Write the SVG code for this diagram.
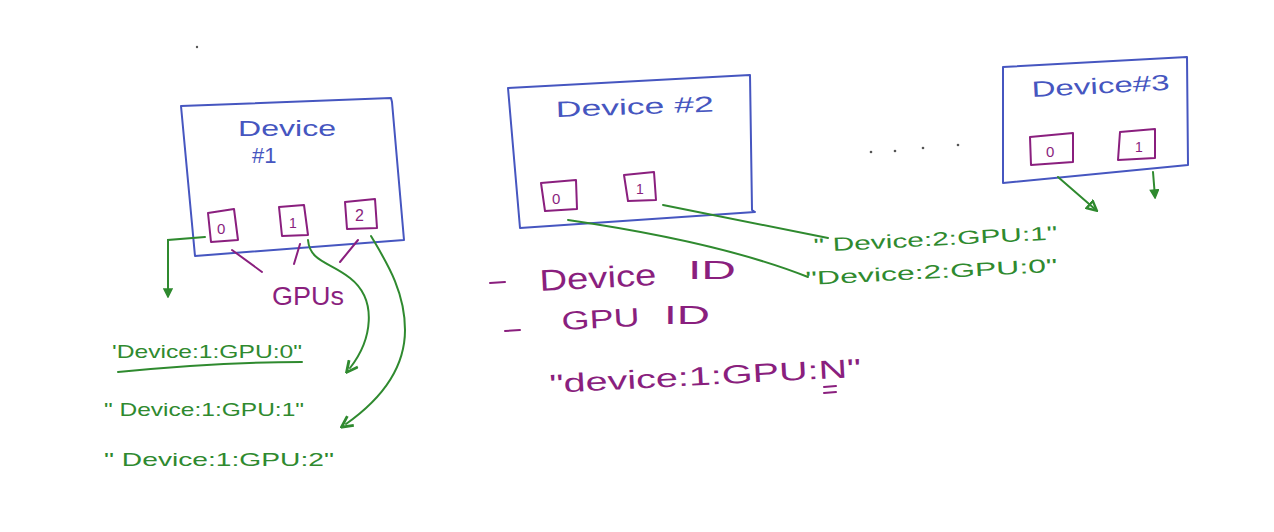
<svg xmlns="http://www.w3.org/2000/svg" width="1274" height="532" viewBox="0 0 1274 532">
<style>
.dev{fill:none;stroke:#4656c0;stroke-width:2;stroke-linejoin:round}
.gpu{fill:none;stroke:#8a1f7e;stroke-width:2;stroke-linejoin:round}
.bt{fill:#4656c0;font-family:"Liberation Sans",sans-serif;font-size:22px}
.pt{fill:#8a1f7e;font-family:"Liberation Sans",sans-serif}
.gt{fill:#2f8a2f;font-family:"Liberation Sans",sans-serif;font-size:19px}
.cn{fill:none;stroke:#2f8a2f;stroke-width:2;stroke-linecap:round}
.pl{fill:none;stroke:#8a1f7e;stroke-width:2;stroke-linecap:round}
</style>
<defs>
<marker id="ah" viewBox="0 0 10 10" refX="5" refY="5" markerWidth="7" markerHeight="7" orient="auto-start-reverse">
<path d="M1,1 L9,5 L1,9" fill="none" stroke="#2f8a2f" stroke-width="2"/>
</marker>
<marker id="tri" viewBox="0 0 10 10" refX="8" refY="5" markerWidth="6" markerHeight="6" orient="auto">
<path d="M1,1 L9,5 L1,9 Z" fill="none" stroke="#2f8a2f" stroke-width="2"/>
</marker>
<marker id="trif" viewBox="0 0 10 10" refX="8" refY="5" markerWidth="5" markerHeight="5" orient="auto">
<path d="M1,1 L9,5 L1,9 Z" fill="#2f8a2f" stroke="#2f8a2f" stroke-width="1.5"/>
</marker>
</defs>
<rect width="1274" height="532" fill="#ffffff"/>
<circle cx="197" cy="47" r="1.2" fill="#555"/>

<g id="device1">
<path class="dev" d="M181,106 L391,98 L392,102 L404,240 L195,256 Z"/>
<text class="bt" x="238" y="136" textLength="98" lengthAdjust="spacingAndGlyphs">Device</text>
<text class="bt" x="252" y="163" font-size="18">#1</text>
<path class="gpu" d="M208,213 L234,209 L238,240 L211,242 Z"/>
<text class="pt" x="217" y="234" font-size="15">0</text>
<path class="gpu" d="M279,207 L304,205 L308,235 L282,236 Z"/>
<text class="pt" x="289" y="228" font-size="14">1</text>
<path class="gpu" d="M345,202 L375,199 L377,228 L347,229 Z"/>
<text class="pt" x="355" y="221" font-size="16">2</text>
</g>

<g id="gpus-label">
<path class="pl" d="M232,250 L262,272"/>
<path class="pl" d="M300,244 L294,264"/>
<path class="pl" d="M358,240 L340,262"/>
<text class="pt" x="272" y="305" font-size="26" textLength="72" lengthAdjust="spacingAndGlyphs">GPUs</text>
</g>

<g id="device2">
<path class="dev" d="M508,88 L750,75 L752,210 L755,212 L520,228 Z"/>
<text class="bt" x="556" y="117" textLength="158" lengthAdjust="spacingAndGlyphs" transform="rotate(-2 556 117)">Device #2</text>
<path class="gpu" d="M541,183 L576,180 L577,209 L545,211 Z"/>
<text class="pt" x="552" y="204" font-size="15">0</text>
<path class="gpu" d="M624,175 L654,172 L656,200 L628,201 Z"/>
<text class="pt" x="636" y="194" font-size="14">1</text>
</g>

<g id="device3">
<path class="dev" d="M1003,67 L1187,57 L1188,165 L1003,183 Z"/>
<text class="bt" x="1032" y="97" textLength="138" lengthAdjust="spacingAndGlyphs" transform="rotate(-3 1032 97)">Device#3</text>
<path class="gpu" d="M1030,137 L1073,133 L1073,162 L1031,165 Z"/>
<text class="pt" x="1046" y="157" font-size="15">0</text>
<path class="gpu" d="M1120,132 L1155,129 L1155,158 L1118,160 Z"/>
<text class="pt" x="1135" y="152" font-size="14">1</text>
</g>

<g id="dots" fill="#555">
<circle cx="871" cy="152" r="1.3"/>
<circle cx="895" cy="151" r="1.3"/>
<circle cx="923" cy="148" r="1.3"/>
<circle cx="958" cy="145" r="1.3"/>
</g>

<g id="connectors">
<path class="cn" d="M205,237 L168,240 L168,296" marker-end="url(#trif)"/>
<path class="cn" d="M308,240 C310,262 330,262 350,278 C378,300 372,340 350,368" marker-end="url(#ah)"/>
<path class="cn" d="M371,236 C385,260 405,290 405,330 C405,370 380,400 346,424" marker-end="url(#ah)"/>
<path class="cn" d="M118,372 C180,366 240,362 302,362"/>
<path class="cn" d="M663,205 L828,238"/>
<path class="cn" d="M568,220 C650,232 740,250 808,277"/>
<path class="cn" d="M1058,177 L1096,210" marker-end="url(#tri)"/>
<path class="cn" d="M1153,172 L1155,197" marker-end="url(#trif)"/>
</g>

<g id="labels-dev1">
<text class="gt" x="112" y="358" textLength="190" lengthAdjust="spacingAndGlyphs">'Device:1:GPU:0"</text>
<text class="gt" x="104" y="416" textLength="200" lengthAdjust="spacingAndGlyphs">" Device:1:GPU:1"</text>
<text class="gt" x="104" y="466" textLength="230" lengthAdjust="spacingAndGlyphs">" Device:1:GPU:2"</text>
</g>

<g id="labels-dev2">
<text class="gt" x="814" y="252" textLength="244" lengthAdjust="spacingAndGlyphs" transform="rotate(-3 814 252)">" Device:2:GPU:1"</text>
<text class="gt" x="806" y="285" textLength="252" lengthAdjust="spacingAndGlyphs" transform="rotate(-3 806 285)">"Device:2:GPU:0"</text>
</g>

<g id="notes">
<path class="pl" d="M490,283 L505,282"/>
<text class="pt" x="540" y="291" font-size="30" textLength="117" lengthAdjust="spacingAndGlyphs" transform="rotate(-3 540 291)">Device</text>
<text class="pt" x="688" y="279" font-size="26" textLength="48" lengthAdjust="spacingAndGlyphs">ID</text>
<path class="pl" d="M505,331 L520,330"/>
<text class="pt" x="562" y="330" font-size="26" textLength="78" lengthAdjust="spacingAndGlyphs" transform="rotate(-3 562 330)">GPU</text>
<text class="pt" x="664" y="324" font-size="26" textLength="46" lengthAdjust="spacingAndGlyphs">ID</text>
<text class="pt" x="550" y="393" font-size="26" textLength="312" lengthAdjust="spacingAndGlyphs" transform="rotate(-3 550 393)">"device:1:GPU:N"</text>
<path class="pl" d="M824,387 L836,386 M824,393 L836,392"/>
</g>
</svg>
